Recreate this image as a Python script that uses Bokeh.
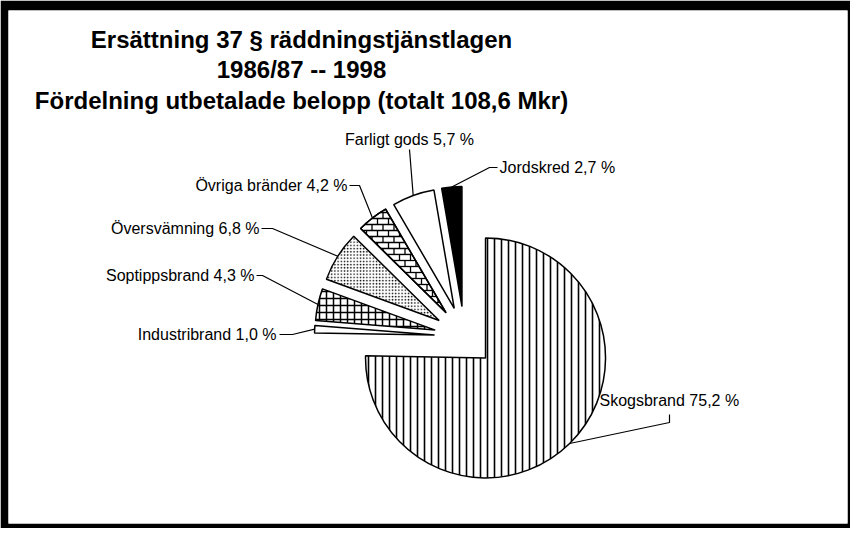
import math
from bokeh.plotting import figure
from bokeh.models import Range1d
from bokeh.core.properties import value
from bokeh.embed import file_html
from bokeh.resources import INLINE

# ---------------- data ----------------
title_lines = [
    "Ersättning 37 § räddningstjänstlagen",
    "1986/87 -- 1998",
    "Fördelning utbetalade belopp (totalt 108,6 Mkr)",
]
categories = ["Skogsbrand", "Industribrand", "Soptippsbrand", "Översvämning",
              "Övriga bränder", "Farligt gods", "Jordskred"]
shares = [75.2, 1.0, 4.3, 6.8, 4.2, 5.7, 2.7]

# ---------------- layout (page pixel coordinates) ----------------
PAGE_H = 544
def Y(py):
    return PAGE_H - py

CX, CY = 472, Y(344)      # pie centre
R = 120                   # pie radius
EXPLODE = 30              # explosion distance of every slice

label_layout = {
    "Skogsbrand":     dict(x=607, y=408, align="left",   knees=[(677, 422), (677, 430)]),
    "Industribrand":  dict(x=284, y=342, align="right",  knees=[(287, 342), (300, 342)]),
    "Soptippsbrand":  dict(x=262, y=283, align="right",  knees=[(264, 283), (270, 283)]),
    "Översvämning":   dict(x=267, y=236, align="right",  knees=[(269, 236), (280, 236)]),
    "Övriga bränder": dict(x=355, y=193, align="right",  knees=[(357, 193), (367, 193)]),
    "Farligt gods":   dict(x=417, y=147, align="center", knees=[(417, 157)]),
    "Jordskred":      dict(x=507, y=175, align="left",   knees=[(505, 175), (497, 175)]),
}

styles = {
    "Skogsbrand":     dict(fill_color="white", hatch_pattern="vertical_line", hatch_scale=7, hatch_weight=1.6, hatch_color="black"),
    "Industribrand":  dict(fill_color="white"),
    "Soptippsbrand":  dict(fill_color="white", hatch_pattern="cross", hatch_scale=7, hatch_weight=1.5, hatch_color="black"),
    "Översvämning":   dict(fill_color="white", hatch_pattern="dot", hatch_scale=3.2, hatch_weight=1.1, hatch_color="black"),
    "Övriga bränder": dict(fill_color="white", brick=True),
    "Farligt gods":   dict(fill_color="white"),
    "Jordskred":      dict(fill_color="black"),
}
BRICK_H, BRICK_W = 6, 11


def clip_segment(p0, p1, poly):
    """Cyrus-Beck clipping of segment p0-p1 against a CCW convex polygon."""
    dx, dy = p1[0] - p0[0], p1[1] - p0[1]
    tE, tL = 0.0, 1.0
    n = len(poly)
    for i in range(n):
        ex, ey = poly[i]
        fx, fy = poly[(i + 1) % n]
        nx, ny = -(fy - ey), (fx - ex)
        num = nx * (p0[0] - ex) + ny * (p0[1] - ey)
        den = nx * dx + ny * dy
        if abs(den) < 1e-12:
            if num < 0:
                return None
            continue
        t = -num / den
        if den > 0:
            tE = max(tE, t)
        else:
            tL = min(tL, t)
        if tE > tL:
            return None
    return ((p0[0] + tE * dx, p0[1] + tE * dy), (p0[0] + tL * dx, p0[1] + tL * dy))


def brick_lines(vx, vy, a0, a1):
    poly = [(vx, vy)]
    steps = 40
    for i in range(steps + 1):
        a = a0 + (a1 - a0) * i / steps
        poly.append((vx + R * math.cos(a), vy + R * math.sin(a)))
    xs_all = [q[0] for q in poly]
    ys_all = [q[1] for q in poly]
    xmin, xmax = min(xs_all), max(xs_all)
    ymin, ymax = min(ys_all), max(ys_all)
    segs_x, segs_y = [], []
    k0 = int(math.floor(ymin / BRICK_H)) - 1
    k1 = int(math.ceil(ymax / BRICK_H)) + 1
    for k in range(k0, k1 + 1):
        yy = k * BRICK_H
        s = clip_segment((xmin - 5, yy), (xmax + 5, yy), poly)
        if s:
            segs_x.append([s[0][0], s[1][0]]); segs_y.append([s[0][1], s[1][1]])
        off = (k % 2) * BRICK_W / 2
        j0 = int(math.floor((xmin - off) / BRICK_W)) - 1
        j1 = int(math.ceil((xmax - off) / BRICK_W)) + 1
        for j in range(j0, j1 + 1):
            xx = j * BRICK_W + off
            s = clip_segment((xx, yy), (xx, yy + BRICK_H), poly)
            if s:
                segs_x.append([s[0][0], s[1][0]]); segs_y.append([s[0][1], s[1][1]])
    return segs_x, segs_y


# ---------------- figure ----------------
W, H = 850, 528
p = figure(width=W, height=H, output_backend="svg", toolbar_location=None,
           x_axis_type=None, y_axis_type=None,
           min_border_left=8, min_border_top=10, min_border_right=3, min_border_bottom=5,
           border_fill_color="black", background_fill_color="white")
p.outline_line_color = None
p.grid.visible = False
p.x_range = Range1d(16, 855)
p.y_range = Range1d(Y(531), Y(18))

total = sum(shares)
cw = 0.0
for cat, v in zip(categories, shares):
    span = v / total * 360.0
    cw_start, cw_end = cw, cw + span
    cw = cw_end
    a0 = math.radians(90 - cw_end)
    a1 = math.radians(90 - cw_start)
    mid = (a0 + a1) / 2
    vx = CX + EXPLODE * math.cos(mid)
    vy = CY + EXPLODE * math.sin(mid)
    st = dict(styles[cat])
    brick = st.pop("brick", False)
    p.wedge(x=[vx], y=[vy], radius=R, start_angle=[a0], end_angle=[a1],
            direction="anticlock", line_color="black", line_width=1.5, **st)
    if brick:
        bx, by = brick_lines(vx, vy, a0, a1)
        p.multi_line(bx, by, line_color="black", line_width=1.3)
        p.wedge(x=[vx], y=[vy], radius=R, start_angle=[a0], end_angle=[a1],
                direction="anticlock", line_color="black", line_width=1.5,
                fill_color=None)
    # leader line
    ox = CX + (EXPLODE + R) * math.cos(mid)
    oy = CY + (EXPLODE + R) * math.sin(mid)
    lay = label_layout[cat]
    xs = [k[0] for k in lay["knees"]] + [ox]
    ys = [Y(k[1]) for k in lay["knees"]] + [oy]
    p.line(xs, ys, line_color="black", line_width=1.2)
    label = f"{cat} {v:.1f}".replace(".", ",") + " %"
    p.text(x=[lay["x"]], y=[Y(lay["y"])], text=[label],
           text_font=value("Liberation Sans"), text_font_size="16px",
           text_align=lay["align"], text_baseline="middle", text_color="black")

title_baselines = [47, 77, 108]
for line, by in zip(title_lines, title_baselines):
    p.text(x=[309], y=[Y(by)], text=[line], text_font=value("Liberation Sans"),
           text_font_size="24px", text_font_style="bold", text_align="center",
           text_baseline="alphabetic", text_color="black")

open("out.html", "w").write(file_html(p, INLINE))
